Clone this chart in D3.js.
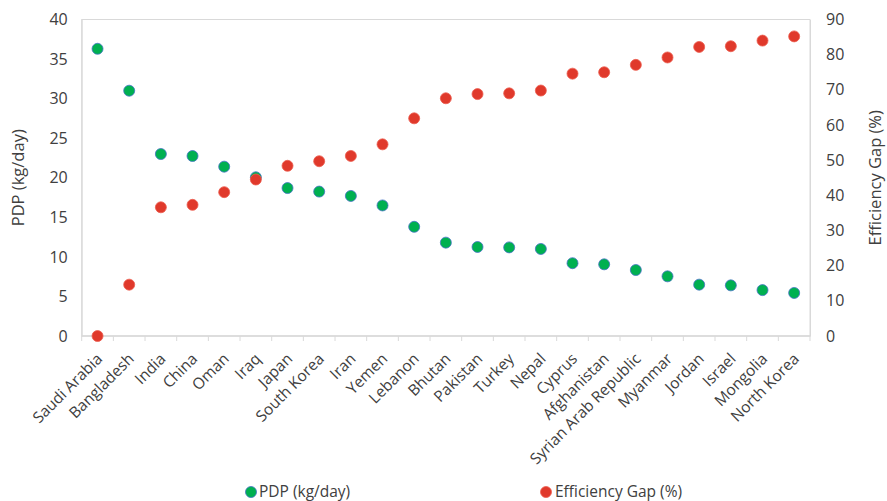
<!DOCTYPE html>
<html><head><meta charset="utf-8">
<script src="https://cdn.jsdelivr.net/npm/d3@7"></script>
<style>body{margin:0;background:#fff}svg{display:block}text{font-family:"Open Sans",sans-serif;fill:#404040}</style>
</head><body><svg id="c" width="887" height="501"></svg>
<script>
const countries = ["Saudi Arabia","Bangladesh","India","China","Oman","Iraq","Japan","South Korea","Iran","Yemen","Lebanon","Bhutan","Pakistan","Turkey","Nepal","Cyprus","Afghanistan","Syrian Arab Republic","Myanmar","Jordan","Israel","Mongolia","North Korea"];
const pdp = [36.3,31.0,23.0,22.75,21.4,20.06,18.7,18.25,17.7,16.5,13.8,11.8,11.25,11.2,11.0,9.2,9.06,8.34,7.54,6.49,6.4,5.8,5.44];
const gap = [0,14.6,36.6,37.3,40.9,44.5,48.4,49.7,51.2,54.5,61.9,67.6,68.8,69.0,69.8,74.6,75.0,77.1,79.2,82.2,82.4,84.0,85.2];
const leftTicks = [0,5,10,15,20,25,30,35,40];
const rightTicks = [0,10,20,30,40,50,60,70,80,90];

const svg = d3.select("#c");
const L=81.7, R=810, T=19.5, B=336;
const x = d3.scaleBand().domain(countries).range([L,R]);
const yL = d3.scaleLinear().domain([0,40]).range([B,T]);
const yR = d3.scaleLinear().domain([0,90]).range([B,T]);

svg.append("rect").attr("x",L).attr("y",T).attr("width",R-L).attr("height",B-T)
  .attr("fill","none").attr("stroke","#d9d9d9").attr("stroke-width",1);

const gl = svg.append("g").attr("transform",`translate(${L},0)`)
  .call(d3.axisLeft(yL).tickValues(leftTicks).tickSize(0).tickPadding(14));
gl.select(".domain").attr("stroke","#d9d9d9");
gl.selectAll("text").style("font-size","16px").attr("fill","#333");

const gr = svg.append("g").attr("transform",`translate(${R},0)`)
  .call(d3.axisRight(yR).tickValues(rightTicks).tickSize(0).tickPadding(16));
gr.select(".domain").attr("stroke","#d9d9d9");
gr.selectAll("text").style("font-size","16px").attr("fill","#333");

const gb = svg.append("g");
gb.append("line").attr("x1",L).attr("x2",R).attr("y1",B).attr("y2",B).attr("stroke","#d9d9d9").attr("stroke-width",1.3);
gb.selectAll("line.t").data(d3.range(countries.length+1)).join("line").attr("class","t")
  .attr("x1",i=>L+i*x.step()).attr("x2",i=>L+i*x.step()).attr("y1",B).attr("y2",B+5).attr("stroke","#d9d9d9");
gb.selectAll("text").data(countries).join("text")
  .attr("transform",d=>`translate(${x(d)+x.bandwidth()/2+2},${B+20}) rotate(-45)`)
  .attr("text-anchor","end").attr("dy","0.35em").style("font-size","15.5px").attr("fill","#333").text(d=>d);

svg.append("text").attr("transform",`translate(24,${(T+B)/2}) rotate(-90)`).attr("text-anchor","middle")
  .style("font-size","16.5px").attr("fill","#333").text("PDP (kg/day)");
svg.append("text").attr("transform",`translate(881,${(T+B)/2}) rotate(-90)`).attr("text-anchor","middle")
  .style("font-size","16.5px").attr("fill","#333").text("Efficiency Gap (%)");

const cx = d=>x(d)+x.bandwidth()/2;
svg.append("g").selectAll("circle").data(countries).join("circle")
  .attr("cx",cx).attr("cy",(d,i)=>yL(pdp[i])).attr("r",5.5)
  .attr("fill","#00b050").attr("stroke","#4472c4").attr("stroke-width",0.8);
svg.append("g").selectAll("circle").data(countries).join("circle")
  .attr("cx",cx).attr("cy",(d,i)=>yR(gap[i])).attr("r",5.5)
  .attr("fill","#e0392b").attr("stroke","#ec5d4f").attr("stroke-width",0.8);

const lg = svg.append("g");
lg.append("circle").attr("cx",251).attr("cy",492).attr("r",5.5).attr("fill","#00b050").attr("stroke","#4472c4").attr("stroke-width",0.8);
lg.append("text").attr("x",259).attr("y",492).attr("dy","0.35em").style("font-size","15.5px").attr("fill","#333").text("PDP (kg/day)");
lg.append("circle").attr("cx",546).attr("cy",492).attr("r",5.5).attr("fill","#e0392b").attr("stroke","#ec5d4f").attr("stroke-width",0.8);
lg.append("text").attr("x",555).attr("y",492).attr("dy","0.35em").style("font-size","15.5px").attr("fill","#333").text("Efficiency Gap (%)");
</script></body></html>
